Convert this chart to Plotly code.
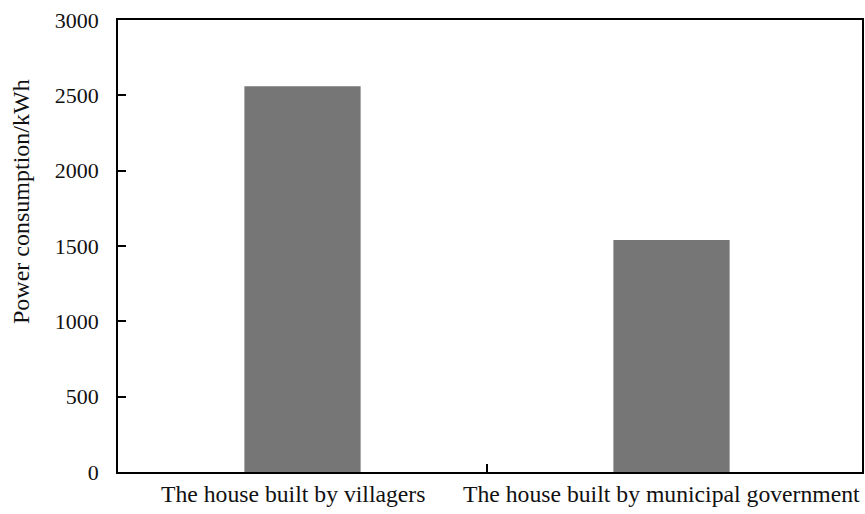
import plotly.graph_objects as go

categories = ["The house built by villagers", "The house built by municipal government"]
consumption = [2560, 1540]
y_ticks = [0, 500, 1000, 1500, 2000, 2500, 3000]
y_title = "Power consumption/kWh"

FONT = "Liberation Serif, Times New Roman, serif"
W, H = 865, 514
L, R, T, B = 118, 3, 20, 42
pw, ph = W - L - R, H - T - B

fig = go.Figure()
fig.add_trace(go.Bar(
    x=categories, y=consumption, width=0.315,
    marker=dict(color="#767676", line=dict(width=0)),
))

for c in categories:
    fig.add_annotation(
        x=c, y=0, xref="x", yref="paper", yanchor="top",
        text=c, showarrow=False, xshift=-10, yshift=-7,
        font=dict(family=FONT, size=23.7, color="#111111"),
    )

fig.add_annotation(
    x=(21 - L) / pw, y=(H - B - 202) / ph, xref="paper", yref="paper",
    xanchor="center", yanchor="middle", textangle=-90,
    text=y_title, showarrow=False,
    font=dict(family=FONT, size=24, color="#111111"),
)

fig.update_layout(
    width=W, height=H,
    margin=dict(l=L, r=R, t=T, b=B, autoexpand=False),
    paper_bgcolor="white", plot_bgcolor="white",
    showlegend=False,
    font=dict(family=FONT, size=20, color="#111111"),
)
fig.update_xaxes(
    type="category", showticklabels=False,
    tickmode="array", tickvals=[0.5], ticktext=[""],
    ticks="inside", ticklen=8, tickwidth=1.5, tickcolor="black",
    showline=True, linecolor="black", linewidth=1.5, mirror=True,
    showgrid=False, zeroline=False, automargin=False,
)
fig.update_yaxes(
    range=[0, 3000], tickvals=y_ticks, ticktext=[str(v) for v in y_ticks],
    ticks="inside", ticklen=8, tickwidth=1.5, tickcolor="black",
    ticklabelstandoff=13,
    showline=True, linecolor="black", linewidth=1.5, mirror=True,
    showgrid=False, zeroline=False, automargin=False,
    tickfont=dict(family=FONT, size=22, color="#111111"),
)

fig.write_html("out.html", config={"displayModeBar": False})

# remove the default body margin so the figure fills the window exactly
with open("out.html", "r", encoding="utf-8") as f:
    html = f.read()
html = html.replace("<body>", '<body style="margin:0;padding:0;overflow:hidden;">', 1)
with open("out.html", "w", encoding="utf-8") as f:
    f.write(html)
